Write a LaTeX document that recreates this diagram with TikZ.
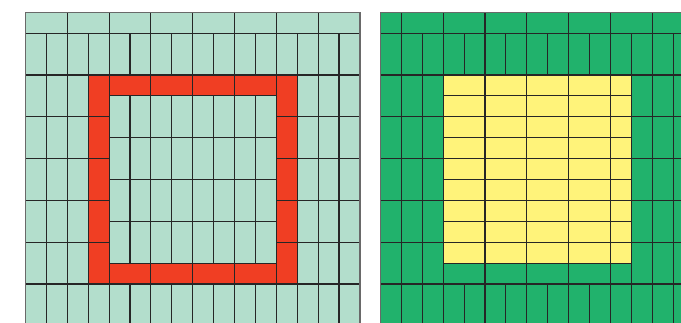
\documentclass[tikz,border=0pt]{standalone}
\definecolor{lgreen}{RGB}{179,222,204}
\definecolor{tred}{RGB}{240,62,35}
\definecolor{dgreen}{RGB}{33,178,108}
\definecolor{tyellow}{RGB}{255,243,122}
\definecolor{ln}{RGB}{38,38,38}
\definecolor{edge}{RGB}{105,105,105}
\tikzset{
  gridline/.style={draw=ln, line width=1.1pt},
  border/.style={draw=edge, line width=1.4pt},
}
\begin{document}
\begin{tikzpicture}[x=1pt,y=-1pt]
\useasboundingbox (0,0) rectangle (681,323);
\clip (0,0) rectangle (681,323);
\fill[white] (0,0) rectangle (681,323);
% ---------------- left grid ----------------
\begin{scope}[shift={(25.5pt,-12.3pt)}, x=20.9pt, y=-20.9pt]
  \fill[lgreen] (0,0) rectangle (16,16);
  \fill[tred,even odd rule] (3,3) rectangle (13,13) (4,4) rectangle (12,12);
  \begin{scope}[gridline]
    \draw (0,0)--(16,0) (0,1)--(16,1) (0,3)--(16,3) (0,13)--(16,13);
    \foreach \i in {2,4,...,14} \draw (\i,0)--(\i,1);
    \foreach \i in {1,...,15} {\draw (\i,1)--(\i,3); \draw (\i,13)--(\i,16);}
    \foreach \j in {5,7,9,11} {\draw (0,\j)--(4,\j); \draw (12,\j)--(16,\j);}
    \foreach \i in {1,2,3,4,12,13,14,15} \draw (\i,3)--(\i,13);
    \draw (4,4)--(12,4) (4,12)--(12,12);
    \foreach \i in {6,8,10} {\draw (\i,3)--(\i,4); \draw (\i,12)--(\i,13);}
    \foreach \i in {5,...,11} \draw (\i,4)--(\i,12);
    \foreach \j in {6,8,10} \draw (4,\j)--(12,\j);
  \end{scope}
  \draw[border] (0,16)--(0,0)--(16,0)--(16,16);
\end{scope}
% ---------------- right grid ----------------
\begin{scope}[shift={(380.5pt,-12.3pt)}, x=20.9pt, y=-20.9pt]
  \fill[dgreen] (0,0) rectangle (16,16);
  \fill[tyellow] (3,3) rectangle (12,12);
  \begin{scope}[gridline]
    \draw (0,0)--(16,0) (0,1)--(16,1) (0,3)--(16,3) (0,13)--(16,13);
    \foreach \i in {1,3,...,15} \draw (\i,0)--(\i,1);
    \foreach \i in {1,...,15} {\draw (\i,1)--(\i,3); \draw (\i,13)--(\i,16);}
    \foreach \j in {5,7,9,11} {\draw (0,\j)--(3,\j); \draw (12,\j)--(16,\j);}
    \foreach \i in {1,2,3,12,13,14,15} \draw (\i,3)--(\i,13);
    \foreach \j in {4,...,12} \draw (3,\j)--(12,\j);
    \foreach \i in {5,7,9,11} \draw (\i,3)--(\i,13);
  \end{scope}
  \draw[border] (0,16)--(0,0)--(16,0);
\end{scope}
\end{tikzpicture}
\end{document}
